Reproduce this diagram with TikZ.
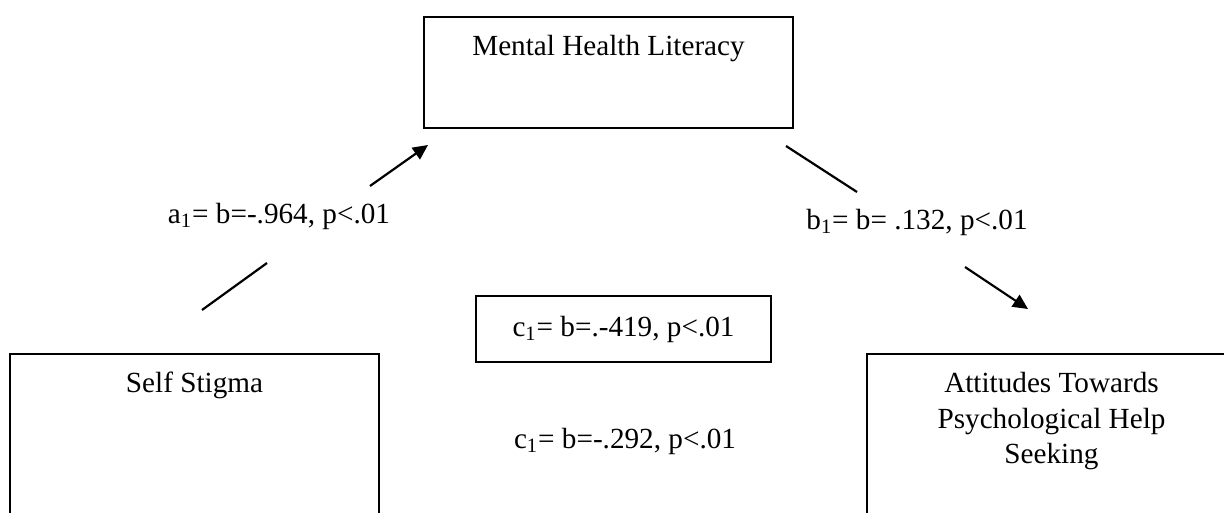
\documentclass[tikz,border=0pt]{standalone}
\usepackage{fontspec}
\setmainfont{Liberation Serif}
\usetikzlibrary{arrows.meta,positioning}

\tikzset{
  varbox/.style={draw, line width=1pt, minimum width=184.5pt, anchor=north west, inner sep=0pt},
  vartext/.style={align=center, inner sep=0pt},
  conn/.style={line width=1.1pt},
  tip/.style={-{Triangle[length=7.5pt, width=7pt]}}
}

\begin{document}
\begin{tikzpicture}[x=0.5pt, y=-0.5pt, font=\fontsize{14.6}{17.8}\selectfont]
			\useasboundingbox (0,0) rectangle (1224,513);
			% boxes
			\node[varbox, minimum height=55.5pt] (mhl) at (423,16) {};
			\node[varbox, minimum height=103.5pt] (ss) at (9,353) {};
			\node[varbox, minimum height=103.5pt] (aph) at (866,353) {};
			\node[vartext, below=9.5pt of mhl.north] (mhltext) {Mental Health Literacy};
			\node[vartext, below=9.5pt of ss.north] (sstext) {Self Stigma};
			\node[vartext, below=9.5pt of aph.north] (aphtext) {Attitudes Towards\\Psychological Help\\Seeking};
			% paths
			\coordinate (a1start) at (202,310);
			\coordinate (a1gapa) at (267,263);
			\coordinate (a1gapb) at (370,186);
			\coordinate (a1end) at (428,145);
			\coordinate (b1start) at (786,146);
			\coordinate (b1gapa) at (857,192);
			\coordinate (b1gapb) at (965,267);
			\coordinate (b1end) at (1028,309);
			\draw[conn] (a1start) -- (a1gapa);
			\draw[conn, tip] (a1gapb) -- (a1end);
			\draw[conn] (b1start) -- (b1gapa);
			\draw[conn, tip] (b1gapb) -- (b1end);
			\node[anchor=base] (a1) at (279,223) {a\textsubscript{1}= b=-.964, p<.01};
			\node[anchor=base] (b1) at (917,229) {b\textsubscript{1}= b= .132, p<.01};
			\node[draw, line width=0.75pt, minimum width=147.5pt, minimum height=33pt] (ctot) at (623.5,329) {c\textsubscript{1}= b=.-419, p<.01};
			\node[anchor=base] (cdir) at (625,448) {c\textsubscript{1}= b=-.292, p<.01};
			\end{tikzpicture}
\end{document}
